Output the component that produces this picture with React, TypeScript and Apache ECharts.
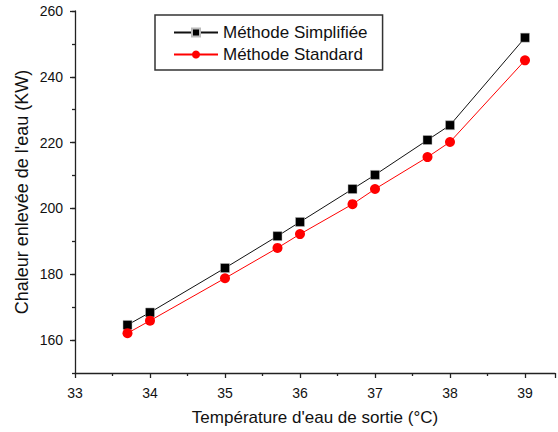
import React, { useEffect, useRef } from "react";
import * as echarts from "echarts";

const temperatures = [33.7, 34, 35, 35.7, 36, 36.7, 37, 37.7, 38, 39];
const simplifiee = [164.6, 168.4, 181.9, 191.6, 195.9, 205.9, 210.2, 220.8, 225.3, 251.9];
const standard = [162.1, 165.9, 178.8, 188.0, 192.2, 201.3, 205.9, 215.6, 220.2, 245.0];
const yMajorTicks = [160, 180, 200, 220, 240, 260];
const seriesNames = ["Méthode Simplifiée", "Méthode Standard"];

export default function App() {
  const ref = useRef<HTMLDivElement>(null);
  useEffect(() => {
    document.body.style.margin = "0";
    if (!ref.current) return;
    const chart = echarts.init(ref.current, null, { renderer: "svg" });
    const font = "Liberation Sans, Arial, sans-serif";
    const pairs = (ys: number[]) => temperatures.map((t, i) => [t, ys[i]]);
    chart.setOption({
      animation: false,
      backgroundColor: "#ffffff",
      grid: { left: 75, top: 11, width: 484, height: 362, containLabel: false },
      legend: {
        orient: "vertical",
        left: 155,
        top: 15,
        padding: [9, 15, 7, 18],
        borderColor: "#333",
        borderWidth: 1.5,
        itemWidth: 44,
        itemHeight: 10,
        itemGap: 5,
        textStyle: { fontFamily: font, fontSize: 17, color: "#111" },
        data: seriesNames,
      },
      xAxis: {
        type: "value",
        min: 33,
        max: 39.4,
        interval: 1,
        axisLine: { show: true, onZero: false, lineStyle: { color: "#222", width: 1.3 } },
        axisTick: { show: true, inside: false, length: 5, lineStyle: { color: "#222", width: 1.3 } },
        minorTick: { show: true, splitNumber: 2, length: 3, lineStyle: { color: "#222", width: 1.3 } },
        splitLine: { show: false },
        axisLabel: {
          margin: 13,
          fontFamily: font,
          fontSize: 14,
          color: "#111",
          formatter: (v: number) => (Math.abs(v - Math.round(v)) < 1e-6 ? String(Math.round(v)) : ""),
        },
        name: "Température d'eau de sortie (°C)",
        nameLocation: "middle",
        nameGap: 36,
        nameTextStyle: { fontFamily: font, fontSize: 17, color: "#111" },
      },
      yAxis: [
        {
          type: "value",
          min: 150,
          max: 260,
          interval: 10,
          position: "left",
          axisLine: { show: true, onZero: false, lineStyle: { color: "#222", width: 1.3 } },
          axisTick: { show: true, length: 3, lineStyle: { color: "#222", width: 1.3 } },
          axisLabel: { show: false },
          splitLine: { show: false },
          name: "Chaleur enlevée de l'eau (KW)",
          nameLocation: "middle",
          nameGap: 44,
          nameTextStyle: { fontFamily: font, fontSize: 18, color: "#111" },
        },
        {
          type: "value",
          min: 150,
          max: 260,
          position: "left",
          axisLine: { show: false },
          axisTick: {
            show: true,
            length: 5,
            customValues: yMajorTicks,
            lineStyle: { color: "#222", width: 1.3 },
          },
          axisLabel: {
            show: true,
            margin: 12,
            customValues: yMajorTicks,
            fontFamily: font,
            fontSize: 14,
            color: "#111",
          },
          splitLine: { show: false },
        },
      ],
      series: [
        {
          name: seriesNames[0],
          type: "line",
          yAxisIndex: 0,
          data: pairs(simplifiee),
          symbol: "rect",
          symbolSize: 9,
          lineStyle: { color: "#111", width: 1 },
          itemStyle: { color: "#000", borderColor: "#bbb", borderWidth: 0.5 },
        },
        {
          name: seriesNames[1],
          type: "line",
          yAxisIndex: 0,
          data: pairs(standard),
          symbol: "circle",
          symbolSize: 10,
          lineStyle: { color: "#ff0000", width: 1 },
          itemStyle: { color: "#ff0000" },
        },
      ],
    });
    return () => chart.dispose();
  }, []);
  return <div ref={ref} style={{ width: 558, height: 432 }} />;
}
